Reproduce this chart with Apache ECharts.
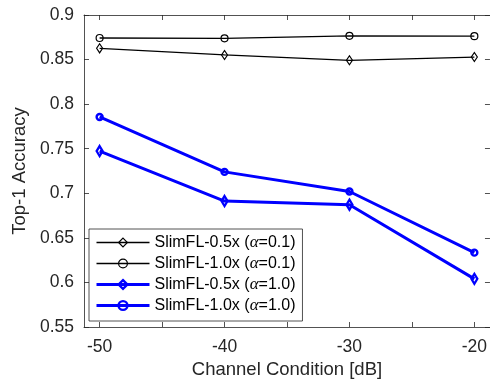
<!DOCTYPE html>
<html>
<head>
<meta charset="utf-8">
<script src="https://cdn.jsdelivr.net/npm/echarts@6/dist/echarts.min.js"></script>
<style>
  html, body { margin: 0; padding: 0; background: #fff; }
  #chart { width: 490px; height: 385px; }
</style>
</head>
<body>
<div id="chart"></div>
<script>
// Channel conditions (dB) on the x axis
const channels = [-50, -40, -30, -20];
// Top-1 accuracy per configuration
const slim05a01 = [0.8626, 0.8552, 0.8492, 0.8528];
const slim10a01 = [0.8742, 0.8738, 0.8766, 0.8762];
const slim05a10 = [0.7474, 0.6913, 0.6872, 0.6040];
const slim10a10 = [0.7856, 0.7240, 0.7020, 0.6334];

const xTickValues = [-50, -45, -40, -35, -30, -25, -20];
const xLabelValues = [-50, -40, -30, -20];

const AX = '#262626';
const FONT = '"Liberation Sans", Arial, Helvetica, sans-serif';

function pairs(ys) { return channels.map((c, i) => [c, ys[i]]); }

const seriesDefs = [
  { name: 'SlimFL-0.5x', alpha: '0.1', data: slim05a01, color: '#000', width: 1.3, symbol: 'diamond', size: [6, 9], border: 1.2 },
  { name: 'SlimFL-1.0x', alpha: '0.1', data: slim10a01, color: '#000', width: 1.3, symbol: 'circle', size: 7, border: 1.2 },
  { name: 'SlimFL-0.5x ', alpha: '1.0', data: slim05a10, color: '#0000ff', width: 3, symbol: 'diamond', size: [6, 10], border: 2.4 },
  { name: 'SlimFL-1.0x ', alpha: '1.0', data: slim10a10, color: '#0000ff', width: 3, symbol: 'circle', size: 6, border: 2.4 }
];
const alphaOf = {};
seriesDefs.forEach(s => { alphaOf[s.name] = s.alpha; });

const xMin = -51.25, xMax = -18.75;
const axisLineStyle = { color: AX, width: 0.8 };

const option = {
  animation: false,
  backgroundColor: '#fff',
  grid: { left: 84, right: 0, top: 15, bottom: 58, containLabel: false },
  xAxis: [
    {
      type: 'value', position: 'bottom', min: xMin, max: xMax,
      name: 'Channel Condition [dB]', nameLocation: 'middle', nameGap: 31,
      nameTextStyle: { fontFamily: FONT, fontSize: 18.5, color: AX },
      axisLine: { show: true, lineStyle: axisLineStyle },
      axisTick: { show: true, inside: true, length: 5, lineStyle: axisLineStyle, customValues: xTickValues },
      axisLabel: { show: true, margin: 11, fontFamily: FONT, fontSize: 17.5, color: AX, customValues: xLabelValues },
      splitLine: { show: false }
    },
    {
      type: 'value', position: 'top', min: xMin, max: xMax,
      axisLine: { show: true, onZero: false, lineStyle: axisLineStyle },
      axisTick: { show: true, inside: true, length: 5, lineStyle: axisLineStyle, customValues: xTickValues },
      axisLabel: { show: false },
      splitLine: { show: false }
    }
  ],
  yAxis: [
    {
      type: 'value', position: 'left', min: 0.55, max: 0.9, interval: 0.05,
      name: 'Top-1 Accuracy', nameLocation: 'middle', nameGap: 52,
      nameTextStyle: { fontFamily: FONT, fontSize: 18.5, color: AX },
      axisLine: { show: true, lineStyle: axisLineStyle },
      axisTick: { show: true, inside: true, length: 5, lineStyle: axisLineStyle },
      axisLabel: { show: true, margin: 10, fontFamily: FONT, fontSize: 17.5, color: AX },
      splitLine: { show: false }
    },
    {
      type: 'value', position: 'right', min: 0.55, max: 0.9, interval: 0.05,
      axisLine: { show: true, onZero: false, lineStyle: axisLineStyle },
      axisTick: { show: true, inside: true, length: 5, lineStyle: axisLineStyle },
      axisLabel: { show: false },
      splitLine: { show: false }
    }
  ],
  legend: {
    orient: 'vertical',
    left: 89, top: 229,
    padding: [5, 7, 7, 6],
    itemWidth: 53, itemHeight: 11, itemGap: 4,
    backgroundColor: '#fff',
    borderColor: AX, borderWidth: 0.8, borderRadius: 0,
    selectedMode: false,
    data: seriesDefs.map(s => ({
      name: s.name,
      lineStyle: { color: s.color, width: s.width },
      itemStyle: { color: 'rgba(255,255,255,0)', borderColor: s.color, borderWidth: s.border }
    })),
    formatter: name => '{t|' + name.trim() + ' (}{a|α}{t|=' + alphaOf[name] + ')}',
    textStyle: {
      padding: [0, 0, 0, 0],
      rich: {
        t: { fontFamily: FONT, fontSize: 16, color: '#000', lineHeight: 18 },
        a: { fontFamily: '"Liberation Serif", "DejaVu Serif", serif', fontStyle: 'italic', fontSize: 17, color: '#000', lineHeight: 18 }
      }
    }
  },
  series: seriesDefs.map(s => ({
    name: s.name,
    type: 'line',
    xAxisIndex: 0, yAxisIndex: 0,
    data: pairs(s.data),
    symbol: s.symbol,
    symbolSize: s.size,
    showAllSymbol: true,
    lineStyle: { color: s.color, width: s.width },
    itemStyle: { color: 'rgba(255,255,255,0)', borderColor: s.color, borderWidth: s.border },
    emphasis: { disabled: true },
    z: 2
  }))
};

const chart = echarts.init(document.getElementById('chart'), null, { renderer: 'canvas' });
chart.setOption(option);
</script>
</body>
</html>
